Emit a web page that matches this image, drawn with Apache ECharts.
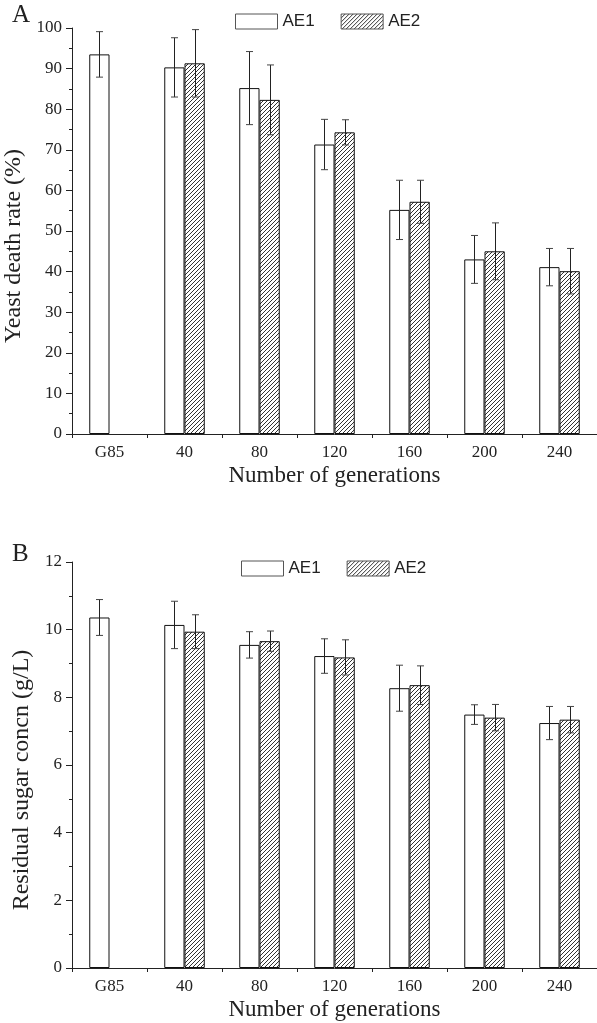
<!DOCTYPE html>
<html>
<head>
    <meta charset="utf-8">
    <title>Yeast death rate and residual sugar</title>
    <script src="https://cdn.jsdelivr.net/npm/echarts@6.0.0/dist/echarts.min.js"></script>
    <style>
        html, body { margin: 0; padding: 0; background: #fff; }
        #main { width: 597px; height: 1023px; }
    </style>
</head>
<body>
<div id="main"></div>
<script>
    // data
    var generations = ['G85', '40', '80', '120', '160', '200', '240'];

    var deathAE1 = [93.5, 90.3, 85.2, 71.3, 55.2, 43.0, 41.1];
    var deathAE1Sd = [5.6, 7.3, 9.0, 6.2, 7.3, 5.9, 4.6];
    var deathAE2 = [null, 91.3, 82.3, 74.3, 57.2, 45.0, 40.1];
    var deathAE2Sd = [null, 8.3, 8.6, 3.1, 5.3, 7.0, 5.6];

    var sugarAE1 = [10.36, 10.14, 9.55, 9.22, 8.27, 7.49, 7.24];
    var sugarAE1Sd = [0.53, 0.70, 0.39, 0.51, 0.68, 0.29, 0.49];
    var sugarAE2 = [null, 9.94, 9.66, 9.18, 8.36, 7.40, 7.34];
    var sugarAE2Sd = [null, 0.50, 0.30, 0.52, 0.57, 0.39, 0.39];

    var serif = '"Liberation Serif", "Times New Roman", serif';
    var sans = '"Liberation Sans", Arial, sans-serif';
    var ink = '#222';
    var BAR_W = 0.27;

    // hatch tile for AE2 (///)
    var tile = document.createElement('canvas');
    tile.width = 4;
    tile.height = 4;
    var ctx = tile.getContext('2d');
    ctx.strokeStyle = '#333';
    ctx.lineWidth = 1;
    ctx.beginPath();
    ctx.moveTo(-1, 5); ctx.lineTo(5, -1);
    ctx.moveTo(-1, 1); ctx.lineTo(1, -1);
    ctx.moveTo(3, 5); ctx.lineTo(5, 3);
    ctx.stroke();
    var hatch = { image: tile, repeat: 'repeat' };

    function errData(mean, sd) {
        var out = [];
        for (var i = 0; i < mean.length; i++) {
            if (mean[i] == null) continue;
            out.push([i, mean[i] - sd[i], mean[i] + sd[i]]);
        }
        return out;
    }

    function errRender(side) {
        return function (params, api) {
            var lo = api.coord([api.value(0), api.value(1)]);
            var hi = api.coord([api.value(0), api.value(2)]);
            var bw = api.size([1, 0])[0] * BAR_W;
            var x = Math.round(lo[0] + side * bw / 2) + 0.5;
            var c = 3.5;
            var cap = { stroke: '#444', lineWidth: 1 };
            return {
                type: 'group',
                children: [
                    { type: 'line', shape: { x1: x, y1: hi[1], x2: x, y2: lo[1] }, style: { stroke: ink, lineWidth: 1 } },
                    { type: 'line', shape: { x1: x - c, y1: hi[1], x2: x + c, y2: hi[1] }, style: cap },
                    { type: 'line', shape: { x1: x - c, y1: lo[1], x2: x + c, y2: lo[1] }, style: cap }
                ]
            };
        };
    }

    function xAxisFor(gi) {
        return {
            type: 'category',
            gridIndex: gi,
            data: generations,
            name: 'Number of generations',
            nameLocation: 'middle',
            nameGap: 30,
            nameTextStyle: { fontFamily: serif, fontSize: 23, color: ink },
            axisLine: { lineStyle: { color: ink, width: 1 } },
            axisTick: { show: true, length: 4, interval: 0, lineStyle: { color: ink } },
            axisLabel: { fontFamily: serif, fontSize: 17, color: ink, margin: 10, interval: 0 }
        };
    }

    function yAxisFor(gi, max, step, name, gap) {
        return {
            type: 'value',
            gridIndex: gi,
            min: 0,
            max: max,
            interval: step,
            name: name,
            nameLocation: 'middle',
            nameGap: gap,
            // extra padding on the far end nudges the title toward the axis origin
            nameTextStyle: { fontFamily: serif, fontSize: 24, color: ink, padding: [0, 30, 0, 0] },
            axisLine: { show: true, lineStyle: { color: ink, width: 1 } },
            axisTick: { show: true, length: 6, lineStyle: { color: ink } },
            minorTick: { show: true, splitNumber: 2, length: 3, lineStyle: { color: ink } },
            splitLine: { show: false },
            axisLabel: { fontFamily: serif, fontSize: 17, color: ink, margin: 10 }
        };
    }

    function legendAt(left, top) {
        return {
            left: left,
            top: top,
            padding: 0,
            data: ['AE1', 'AE2'],
            icon: 'rect',
            itemWidth: 42,
            itemHeight: 15,
            itemGap: 26,
            itemStyle: { borderColor: '#555', borderWidth: 1 },
            textStyle: { fontFamily: sans, fontSize: 17, color: ink },
            selectedMode: false
        };
    }

    function barSeries(name, gi, values, color) {
        return {
            name: name,
            type: 'bar',
            xAxisIndex: gi,
            yAxisIndex: gi,
            data: values,
            barWidth: (BAR_W * 100) + '%',
            barGap: '0%',
            itemStyle: { color: color, borderColor: '#111', borderWidth: 1 }
        };
    }

    function errSeries(gi, mean, sd, side) {
        return {
            type: 'custom',
            xAxisIndex: gi,
            yAxisIndex: gi,
            z: 5,
            silent: true,
            renderItem: errRender(side),
            data: errData(mean, sd)
        };
    }

    var chart = echarts.init(document.getElementById('main'));

    var option = {
        animation: false,
        title: [
            { text: 'A', left: 12, top: 3, padding: 0, textStyle: { fontFamily: serif, fontSize: 25, fontWeight: 'normal', color: ink } },
            { text: 'B', left: 12, top: 542, padding: 0, textStyle: { fontFamily: serif, fontSize: 25, fontWeight: 'normal', color: ink } }
        ],
        legend: [legendAt(235, 13), legendAt(241, 560)],
        grid: [
            { left: 72, right: 0, top: 28, height: 406, containLabel: false, outerBoundsMode: 'none' },
            { left: 72, right: 0, top: 562, height: 406, containLabel: false, outerBoundsMode: 'none' }
        ],
        xAxis: [xAxisFor(0), xAxisFor(1)],
        yAxis: [
            yAxisFor(0, 100, 10, 'Yeast death rate (%)', 44),
            yAxisFor(1, 12, 2, 'Residual sugar concn (g/L)', 35)
        ],
        series: [
            barSeries('AE1', 0, deathAE1, '#fff'),
            barSeries('AE2', 0, deathAE2, hatch),
            errSeries(0, deathAE1, deathAE1Sd, -1),
            errSeries(0, deathAE2, deathAE2Sd, 1),
            barSeries('AE1', 1, sugarAE1, '#fff'),
            barSeries('AE2', 1, sugarAE2, hatch),
            errSeries(1, sugarAE1, sugarAE1Sd, -1),
            errSeries(1, sugarAE2, sugarAE2Sd, 1)
        ]
    };

    chart.setOption(option);
</script>
</body>
</html>
